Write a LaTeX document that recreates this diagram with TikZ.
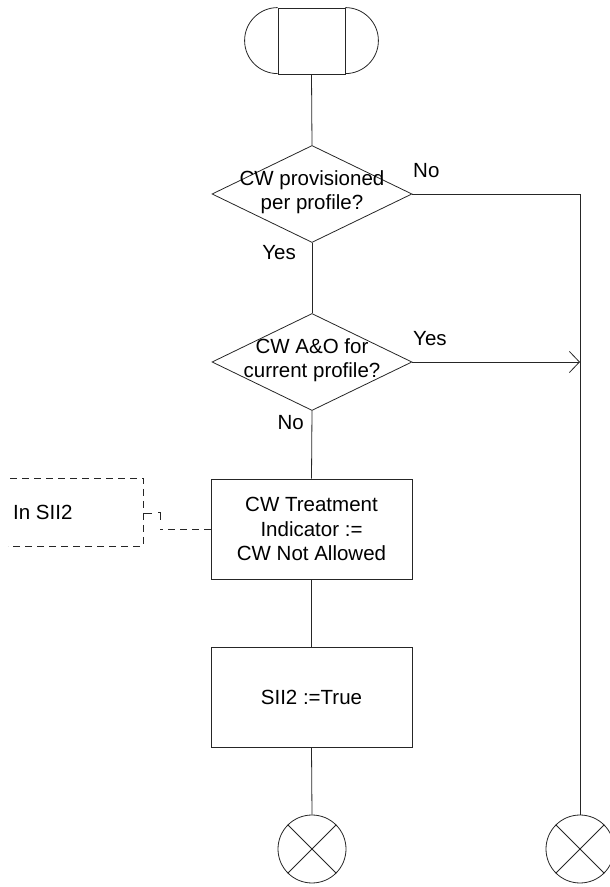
\documentclass[tikz,border=0pt]{standalone}
\usepackage{fontspec}
\setmainfont{Liberation Sans}
\usetikzlibrary{shapes.geometric,arrows.meta}
\begin{document}
\begin{tikzpicture}[x=1pt,y=1pt,
  every node/.style={font=\fontsize{20.5}{24.5}\selectfont},
  ln/.style={draw=black!85,line width=0.8pt},
  procbox/.style={ln,rectangle,minimum width=201pt,minimum height=100pt,inner sep=0pt,align=center},
  decision/.style={ln,diamond,minimum width=200pt,minimum height=97pt,inner sep=0pt},
  endcirc/.style={ln,circle,minimum size=68pt,inner sep=0pt},
  lbl/.style={inner sep=0pt,align=center},
  cmtline/.style={draw=black!85,line width=0.8pt,dash pattern=on 7pt off 5pt}
]
\useasboundingbox (0,0) rectangle (610,887);

% start symbol
\node[ln,rectangle,minimum width=67pt,minimum height=66pt,inner sep=0pt] (start) at (311.5,846) {};
\draw[ln] (start.north west) arc (90:270:33);
\draw[ln] (start.north east) arc (90:-90:33);

% decisions
\node[decision] (d1) at (312,693) {};
\node[lbl] (d1t) at (312,695) {CW provisioned\\per profile?};
\node[decision] (d2) at (312,525) {};
\node[lbl] (d2t) at (312,527) {CW A\&O for\\current profile?};

% process boxes
\node[procbox] (b1) at (311.5,358) {CW Treatment\\Indicator :=\\CW Not Allowed};
\node[procbox] (b2) at (311.5,190) {SII2 :=True};

% terminators
\node[endcirc] (e1) at (312,38) {};
\draw[ln] (e1.north west) -- (e1.south east) (e1.north east) -- (e1.south west);
\node[endcirc] (e2) at (580,38) {};
\draw[ln] (e2.north west) -- (e2.south east) (e2.north east) -- (e2.south west);

% main flow
\draw[ln] (start.south) -- (d1.north);
\draw[ln] (d1.south) -- (d2.north);
\draw[ln] (d2.south) -- (b1.north);
\draw[ln] (b1.south) -- (b2.north);
\draw[ln] (b2.south) -- (e1.north);

% No branch
\coordinate (r1) at (d1.east -| e2.north);
\draw[ln] (d1.east) -- (r1) -- (e2.north);
\coordinate (r2) at (d2.east -| e2.north);
\draw[ln,-{Straight Barb[length=10pt,width=21pt,line width=0.8pt]}] (d2.east) -- (r2);

% labels
\node[lbl,anchor=base west] (no1) at (413,709) {No};
\node[lbl,anchor=base east] (yes1) at (296,627) {Yes};
\node[lbl,anchor=base west] (yes2) at (413,541) {Yes};
\node[lbl,anchor=base east] (no2) at (304,457) {No};

% comment
\node[lbl,anchor=base west] (cmt) at (13,367) {In SII2};
\coordinate (ctr) at (143,409);
\coordinate (cbr) at (143,341);
\draw[cmtline] (10,409) -- (ctr) -- (cbr) -- (8,341);
\coordinate (cj) at (160,358);
\draw[cmtline] (b1.west) -- (cj);
\draw[draw=black!85,line width=0.7pt] (144,374) -- (152,374);
\draw[draw=black!85,line width=0.7pt] (160,367) -- (160,375) -- (158,375);
\end{tikzpicture}
\end{document}
